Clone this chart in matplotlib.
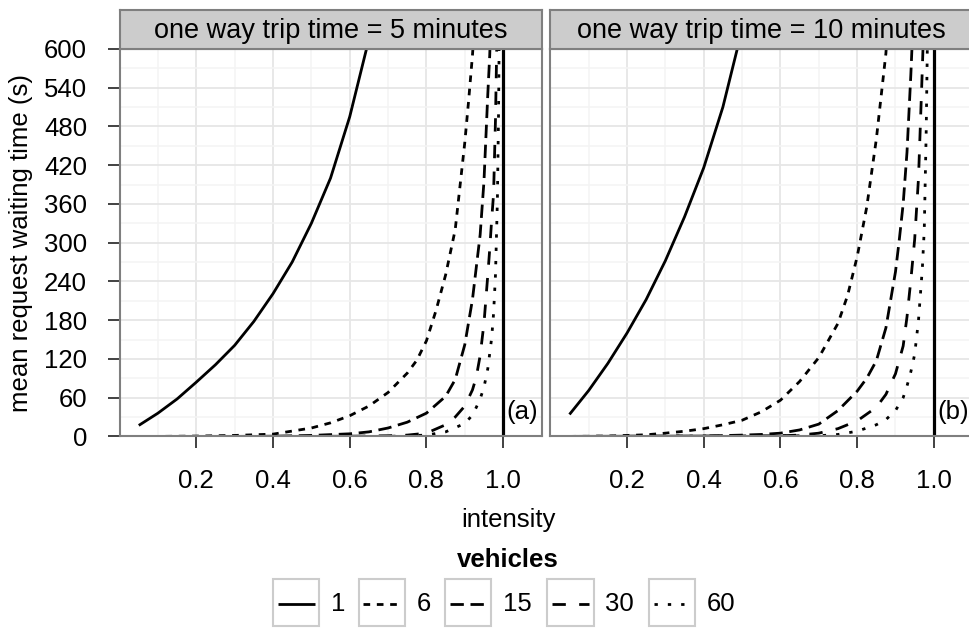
import matplotlib
matplotlib.use('Agg')
import matplotlib.pyplot as plt
from matplotlib.lines import Line2D
from matplotlib.patches import Rectangle

plt.rcParams['font.family'] = ['Liberation Sans', 'DejaVu Sans']

# ---- data ----
panel_titles = ['one way trip time = 5 minutes', 'one way trip time = 10 minutes']
panel_tags = ['(a)', '(b)']
vehicles = ['1', '6', '15', '30', '60']
x_ticks = [0.2, 0.4, 0.6, 0.8, 1.0]
y_ticks = [0, 60, 120, 180, 240, 300, 360, 420, 480, 540, 600]

# panel (a): trip time 5 minutes
a1_x = [0.05, 0.10, 0.15, 0.20, 0.25, 0.30, 0.35, 0.40, 0.45, 0.50, 0.55, 0.60, 0.65]
a1_y = [17, 36, 58, 84, 111, 141, 178, 221, 270, 330, 400, 495, 615]
a6_x = [0.05, 0.10, 0.20, 0.30, 0.40, 0.50, 0.55, 0.60, 0.65, 0.70, 0.75, 0.775, 0.80, 0.825, 0.85, 0.875, 0.90, 0.91, 0.92, 0.93]
a6_y = [0, 0, 0.5, 1.5, 3.5, 13, 21, 32, 47, 68, 98, 118, 148, 195, 250, 320, 455, 520, 590, 680]
a15_x = [0.05, 0.30, 0.40, 0.50, 0.60, 0.65, 0.70, 0.75, 0.80, 0.85, 0.875, 0.90, 0.92, 0.93, 0.94, 0.95, 0.96, 0.965, 0.97]
a15_y = [0, 0, 0.3, 1.5, 4, 7, 13, 22, 36, 62, 88, 142, 212, 262, 312, 395, 530, 590, 680]
a30_x = [0.05, 0.50, 0.60, 0.70, 0.75, 0.80, 0.85, 0.875, 0.90, 0.92, 0.93, 0.94, 0.95, 0.96, 0.965, 0.97, 0.975, 0.98, 0.985]
a30_y = [0, 0, 0.3, 1, 2, 5, 18, 30, 47, 72, 92, 125, 175, 250, 290, 335, 375, 490, 660]
a60_x = [0.05, 0.70, 0.80, 0.85, 0.90, 0.92, 0.93, 0.94, 0.95, 0.96, 0.97, 0.975, 0.98, 0.985, 0.988, 0.99]
a60_y = [0, 0, 2, 7, 20, 33, 45, 58, 76, 105, 152, 190, 250, 366, 500, 640]

# panel (b): trip time 10 minutes
b1_x = [0.05, 0.10, 0.15, 0.20, 0.25, 0.30, 0.35, 0.40, 0.45, 0.50]
b1_y = [34, 71, 113, 160, 212, 272, 340, 416, 510, 630]
b6_x = [0.05, 0.15, 0.20, 0.25, 0.30, 0.35, 0.40, 0.45, 0.50, 0.55, 0.60, 0.65, 0.70, 0.75, 0.775, 0.80, 0.825, 0.85, 0.875, 0.88]
b6_y = [0, 0.5, 1.5, 2.5, 5, 8, 12, 18, 25, 38, 56, 85, 122, 175, 218, 278, 355, 460, 593, 640]
b15_x = [0.05, 0.40, 0.50, 0.55, 0.60, 0.65, 0.70, 0.75, 0.80, 0.825, 0.85, 0.875, 0.90, 0.91, 0.92, 0.93, 0.94, 0.945]
b15_y = [0, 0.5, 2, 3, 5, 10, 19, 40, 70, 90, 117, 168, 255, 305, 360, 440, 560, 630]
b30_x = [0.05, 0.60, 0.65, 0.70, 0.75, 0.80, 0.85, 0.875, 0.90, 0.92, 0.93, 0.94, 0.95, 0.96, 0.97, 0.975]
b30_y = [0, 1, 2, 5, 12, 24, 45, 65, 97, 140, 185, 242, 305, 400, 570, 660]
b60_x = [0.05, 0.70, 0.75, 0.80, 0.85, 0.875, 0.90, 0.92, 0.93, 0.94, 0.95, 0.96, 0.97, 0.975, 0.98, 0.985]
b60_y = [0, 1, 3, 8, 18, 26, 40, 60, 78, 100, 127, 180, 260, 320, 470, 690]

panels = [
    [(a1_x, a1_y), (a6_x, a6_y), (a15_x, a15_y), (a30_x, a30_y), (a60_x, a60_y)],
    [(b1_x, b1_y), (b6_x, b6_y), (b15_x, b15_y), (b30_x, b30_y), (b60_x, b60_y)],
]

# ggplot-like linetypes: solid, 22, 42, 44, 13
LW = 2.0
u = 1.2
styles = ['-', (0, (2 * u, 2 * u)), (0, (4 * u, 2 * u)), (0, (4 * u, 4 * u)), (0, (1 * u, 3 * u))]

W, H = 970, 628
FS = 18.5
BORDER = '#7f7f7f'


def box(x0, y0, x1, y1):
    return [x0 / W, 1 - y1 / H, (x1 - x0) / W, (y1 - y0) / H]


fig = plt.figure(figsize=(W / 100, H / 100), dpi=100)

panel_x = [(119.6, 541.5), (550.3, 972.2)]
top, bottom, strip_top = 48.9, 436.4, 10

for i, (x0, x1) in enumerate(panel_x):
    ax = fig.add_axes(box(x0, top, x1, bottom))
    ax.set_xlim(0, 1.1)
    ax.set_ylim(0, 600)
    ax.set_axisbelow(True)
    ax.set_xticks(x_ticks)
    ax.set_xticklabels(['%.1f' % t for t in x_ticks])
    ax.set_xticks([0.1, 0.3, 0.5, 0.7, 0.9], minor=True)
    ax.set_yticks(y_ticks)
    ax.set_yticks(list(range(30, 600, 60)), minor=True)
    ax.grid(which='major', color='#e6e6e6', lw=1.3)
    ax.grid(which='minor', color='#f4f4f4', lw=1.1)
    ax.tick_params(which='minor', length=0)
    ax.tick_params(which='major', length=8.8, width=1.3, color='#333333',
                   labelsize=FS, labelcolor='black', pad=14.5)
    if i == 1:
        ax.tick_params(axis='y', length=0, labelleft=False)
    for s in ax.spines.values():
        s.set_color(BORDER)
        s.set_linewidth(1.5)

    for (xs, ys), ls in zip(panels[i], styles):
        ax.plot(xs, ys, color='black', lw=LW, linestyle=ls, solid_capstyle='butt')
    ax.axvline(1.0, color='black', lw=2.3)
    ax.text(1.05, 38, panel_tags[i], ha='center', va='center', fontsize=FS)

    sax = fig.add_axes(box(x0, strip_top, x1, top))
    sax.set_facecolor('#cccccc')
    sax.set_xticks([])
    sax.set_yticks([])
    for s in sax.spines.values():
        s.set_color(BORDER)
        s.set_linewidth(1.5)
    sax.text(0.5, 0.47, panel_titles[i], ha='center', va='center', fontsize=19.5,
             transform=sax.transAxes)

fig.text(21 / W, 1 - 242.6 / H, 'mean request waiting time (s)', rotation=90,
         ha='center', va='center', fontsize=FS)
fig.text(508 / W, 1 - 520 / H, 'intensity', ha='center', va='center', fontsize=FS)
fig.text(508 / W, 1 - 560 / H, 'vehicles', ha='center', va='center', fontsize=FS,
         fontweight='bold')

# legend keys with boxes, ggplot style
key_left = [273, 358.5, 445, 547.5, 649]
key_w, key_top = 46.5, 579.3
for left, lab, ls in zip(key_left, vehicles, styles):
    fig.patches.append(Rectangle((left / W, 1 - (key_top + key_w) / H), key_w / W, key_w / H,
                                 transform=fig.transFigure, facecolor='white',
                                 edgecolor='#cccccc', lw=1.5))
    yl = 1 - (key_top + key_w / 2 + 1.5) / H
    fig.lines.append(Line2D([(left + 5) / W, (left + key_w - 5) / W], [yl, yl],
                            transform=fig.transFigure, color='black', lw=LW,
                            linestyle=ls, solid_capstyle='butt'))
    fig.text((left + key_w + 11.5) / W, yl, lab, ha='left', va='center', fontsize=FS)

fig.savefig('out.png', dpi=100)
